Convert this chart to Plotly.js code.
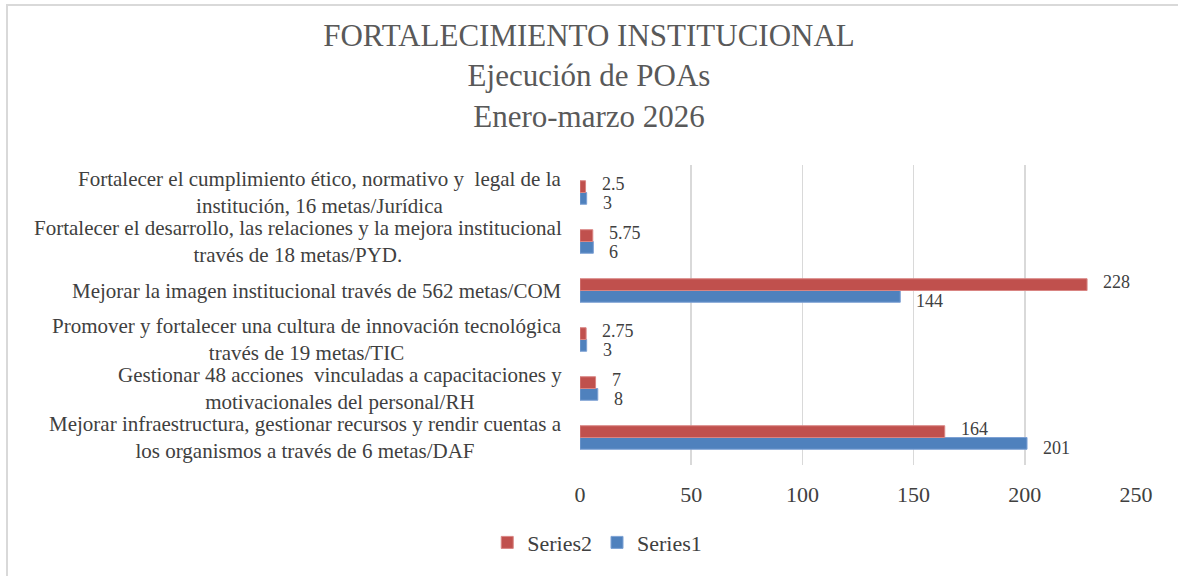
<!DOCTYPE html>
<html>
<head>
<meta charset="utf-8">
<script src="https://cdn.plot.ly/plotly-3.0.1.min.js"></script>
<style>
  html, body { margin: 0; padding: 0; background: #fff; }
  #frame { position: absolute; left: 6px; top: 4px; width: 1200px; height: 600px;
           border-left: 2px solid #D9D9D9; border-top: 2px solid #D9D9D9; }
  #chart { position: absolute; left: 0; top: 0; width: 1178px; height: 576px; }
</style>
</head>
<body>
<div id="frame"></div>
<div id="chart"></div>
<script>
// Categories, bottom to top
const categoryKeys = ["DAF", "RH", "TIC", "COM", "PYD", "JUR"];
const categoryLabels = [
  "Mejorar infraestructura, gestionar recursos y rendir cuentas a<br>los organismos a través de 6 metas/DAF",
  "Gestionar 48 acciones  vinculadas a capacitaciones y<br>motivacionales del personal/RH",
  "Promover y fortalecer una cultura de innovación tecnológica<br>través de 19 metas/TIC",
  "Mejorar la imagen institucional través de 562 metas/COM",
  "Fortalecer el desarrollo, las relaciones y la mejora institucional<br>través de 18 metas/PYD.",
  "Fortalecer el cumplimiento ético, normativo y  legal de la<br>institución, 16 metas/Jurídica"
];
const series1Values = [201, 8, 3, 144, 6, 3];
const series2Values = [164, 7, 2.75, 228, 5.75, 2.5];
const seriesNames = ["Series1", "Series2"];
const xTickValues = [0, 50, 100, 150, 200, 250];

const serif = "Times New Roman, Liberation Serif, DejaVu Serif, serif";
const textColor = "#404040";

const traces = [
  {
    type: "bar", orientation: "h", name: seriesNames[0],
    y: categoryKeys, x: series1Values,
    marker: { color: "#4F81BD", line: { color: "#7DA1D4", width: 1 } },
    hoverinfo: "x"
  },
  {
    type: "bar", orientation: "h", name: seriesNames[1],
    y: categoryKeys, x: series2Values,
    marker: { color: "#C0504D", line: { color: "#D98583", width: 1 } },
    hoverinfo: "x"
  }
];

const annotations = categoryKeys.map((k, i) => ({
  xref: "paper", yref: "y", x: 0, y: k, xanchor: "right", yanchor: "middle",
  xshift: -16, text: categoryLabels[i], showarrow: false, align: "center",
  font: { family: serif, size: 21, color: textColor }
}));

// value labels (outside end), one per bar, from the data
function valueLabels(vals, shiftY) {
  return vals.map((v, i) => ({
    xref: "x", yref: "y", x: v, y: categoryKeys[i], xanchor: "left", yanchor: "middle",
    xshift: 14, yshift: shiftY, text: String(v), showarrow: false,
    font: { family: serif, size: 18, color: textColor }
  }));
}
annotations.push(...valueLabels(series1Values, -10));
annotations.push(...valueLabels(series2Values, 9));

const layout = {
  width: 1178, height: 576,
  margin: { l: 580, r: 42, t: 165, b: 111 },
  paper_bgcolor: "rgba(0,0,0,0)", plot_bgcolor: "rgba(0,0,0,0)",
  font: { family: serif, color: textColor },
  title: {
    text: "FORTALECIMIENTO INSTITUCIONAL<br>Ejecución de POAs<br>Enero-marzo 2026",
    font: { family: serif, size: 31, color: "#595959" },
    x: 0.5, xanchor: "center", y: 0.92, yanchor: "top"
  },
  barmode: "group", bargap: 0.52, bargroupgap: 0,
  xaxis: {
    range: [0, 250], tickvals: xTickValues, showgrid: true,
    gridcolor: "#D9D9D9", gridwidth: 1.5, zeroline: false, showline: false,
    ticks: "", ticklabelstandoff: 14,
    tickfont: { family: serif, size: 22, color: textColor }, fixedrange: true
  },
  yaxis: {
    type: "category", categoryorder: "array", categoryarray: categoryKeys,
    showticklabels: false, showgrid: false, zeroline: false, showline: false,
    ticks: "", fixedrange: true
  },
  legend: {
    orientation: "h", xref: "container", x: 0.507, xanchor: "center",
    yref: "container", y: 0.058, yanchor: "middle",
    traceorder: "reversed",
    font: { family: serif, size: 22, color: textColor }
  },
  annotations: annotations,
  showlegend: true
};

Plotly.newPlot("chart", traces, layout, { displayModeBar: false, staticPlot: true });
</script>
</body>
</html>
